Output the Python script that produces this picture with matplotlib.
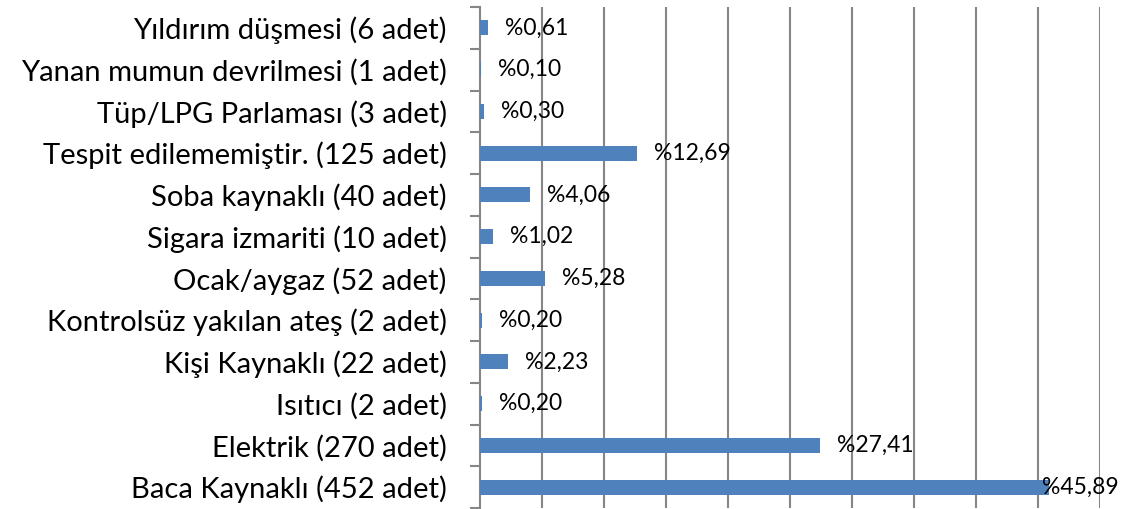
import matplotlib
matplotlib.use("Agg")
import matplotlib.pyplot as plt
import numpy as np

categories = [
    "Baca Kaynaklı (452 adet)",
    "Elektrik (270 adet)",
    "Isıtıcı (2 adet)",
    "Kişi Kaynaklı (22 adet)",
    "Kontrolsüz yakılan ateş (2 adet)",
    "Ocak/aygaz (52 adet)",
    "Sigara izmariti (10 adet)",
    "Soba kaynaklı (40 adet)",
    "Tespit edilememiştir. (125 adet)",
    "Tüp/LPG Parlaması (3 adet)",
    "Yanan mumun devrilmesi (1 adet)",
    "Yıldırım düşmesi (6 adet)",
]
percent = [45.89, 27.41, 0.20, 2.23, 0.20, 5.28, 1.02, 4.06, 12.69, 0.30, 0.10, 0.61]
labels = ["%45,89", "%27,41", "%0,20", "%2,23", "%0,20", "%5,28", "%1,02",
          "%4,06", "%12,69", "%0,30", "%0,10", "%0,61"]

W, H = 1131, 509
fig = plt.figure(figsize=(W / 100, H / 100), dpi=100)
ax = fig.add_axes([480 / W, 1 - 508 / H, 620 / W, 501 / H])

font = "Lato"
grid_c = "#868686"
bar_c = "#4F81BD"

y = np.arange(len(categories))
ax.barh(y, percent, height=0.36, color=bar_c, zorder=3)
ax.set_xlim(0, 50)
ax.set_ylim(-0.5, len(categories) - 0.5)

ax.set_xticks(np.arange(5, 51, 5))
ax.xaxis.grid(True, color=grid_c, linewidth=1.5, zorder=0)
ax.tick_params(axis="x", length=0, labelbottom=False)

ax.set_yticks(y)
ax.set_yticklabels(categories, fontsize=21, fontname=font)
ax.set_yticks(np.arange(-0.5, len(categories), 1), minor=True)
ax.tick_params(axis="y", which="major", length=0, pad=24)
ax.tick_params(axis="y", which="minor", length=7, width=1.5, color=grid_c)

for s in ["top", "right", "bottom"]:
    ax.spines[s].set_visible(False)
ax.spines["left"].set_color(grid_c)
ax.spines["left"].set_linewidth(1.5)

fig.canvas.draw()
renderer = fig.canvas.get_renderer()
right_limit = 1119
for yi, v, lab in zip(y, percent, labels):
    end_px = ax.transData.transform((v, yi))[0]
    t = ax.text(v, yi, lab, fontsize=16.5, fontname=font, va="center", ha="left",
                zorder=4, clip_on=False)
    tw = t.get_window_extent(renderer).width
    start = end_px + 17
    if start + tw > right_limit:
        start = right_limit - tw
    xdata = ax.transData.inverted().transform((start, 0))[0]
    t.set_x(xdata)

fig.savefig("out.png", dpi=100)
